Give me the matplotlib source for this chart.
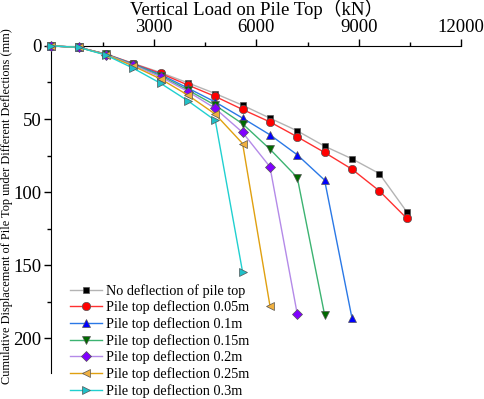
import matplotlib
matplotlib.use("Agg")
import matplotlib.pyplot as plt
from matplotlib.ticker import MultipleLocator

plt.rcParams['font.family'] = ['Liberation Serif', 'Noto Sans CJK SC']

step = 800
loads = [i * step for i in range(14)]

no_defl = [0, 1, 5.5, 12, 18.2, 25.3, 32.6, 40.6, 49.4, 58.1, 68.6, 77.2, 87.3, 113.3]
defl_005 = [0, 1, 5.6, 12.2, 18.8, 26.8, 34.6, 43.5, 52, 62.2, 72.9, 84.3, 99.1, 117.8]
defl_01 = [0, 1, 5.7, 12.5, 19.6, 28.9, 38.4, 49.4, 60.8, 74.5, 91.8, 186]
defl_015 = [0, 1, 5.8, 12.8, 20.4, 30.2, 40.6, 53.3, 70.6, 90, 183.9]
defl_02 = [0, 1, 5.9, 13.2, 21.2, 31.2, 42.8, 59.2, 82.7, 183.4]
defl_025 = [0, 1, 6, 13.8, 22.6, 33.7, 46.7, 66.8, 177.7]
defl_03 = [0, 1, 6.3, 15.3, 25.6, 37.6, 51, 154.7]

labels = ["No deflection of pile top", "Pile top deflection 0.05m",
          "Pile top deflection 0.1m", "Pile top deflection 0.15m",
          "Pile top deflection 0.2m", "Pile top deflection 0.25m",
          "Pile top deflection 0.3m"]
series = [no_defl, defl_005, defl_01, defl_015, defl_02, defl_025, defl_03]
markers = ['s', 'o', '^', 'v', 'D', '<', '>']
line_colors = ['#b4b4b4', '#ff3030', '#2a78e6', '#3cb371', '#b48ae8', '#e0a010', '#20d0d0']
face_colors = ['#000000', '#ff0000', '#0000ff', '#006a00', '#8000ff', '#f0b040', '#20c0c8']
sizes = [5, 6, 6, 6, 5, 6, 6]

fig = plt.figure(figsize=(4.84, 3.99), dpi=100)
ax = fig.add_axes([0.106, 0.064, 0.847, 0.821])

for y, lab, m, lc, fc, ms in zip(series, labels, markers, line_colors, face_colors, sizes):
    ax.plot(loads[:len(y)], y, color=lc, lw=1.0, marker=m, markersize=ms,
            markerfacecolor=fc, markeredgecolor='#555555', markeredgewidth=0.5,
            label=lab, clip_on=False, zorder=3)

ax.set_xlim(0, 12000)
ax.set_ylim(224, 0)
ax.xaxis.set_ticks_position('top')
ax.xaxis.set_label_position('top')
ax.xaxis.set_minor_locator(MultipleLocator(1500))
ax.yaxis.set_major_locator(MultipleLocator(50))
ax.yaxis.set_minor_locator(MultipleLocator(25))
ax.set_xticks([3000, 6000, 9000, 12000])
ax.spines['right'].set_visible(False)
ax.spines['bottom'].set_visible(False)
ax.tick_params(which='major', direction='out', length=5, width=1, labelsize=13.5, pad=2)
ax.tick_params(which='minor', direction='out', length=3, width=1)

ax.set_xlabel("Vertical Load on Pile Top（kN）", fontsize=13.5, labelpad=3)
ax.set_ylabel("Cumulative Displacement of Pile Top under Different Deflections (mm)",
              fontsize=8.8)
ax.yaxis.set_label_coords(-0.093, 0.51)

fig.legend(loc='lower left', bbox_to_anchor=(0.142, 0.0), bbox_transform=fig.transFigure,
           frameon=False, fontsize=10.3, handlelength=2.2, handletextpad=0.3,
           labelspacing=0.2, borderpad=0.1, borderaxespad=0)

fig.savefig("out.png", dpi=100)
